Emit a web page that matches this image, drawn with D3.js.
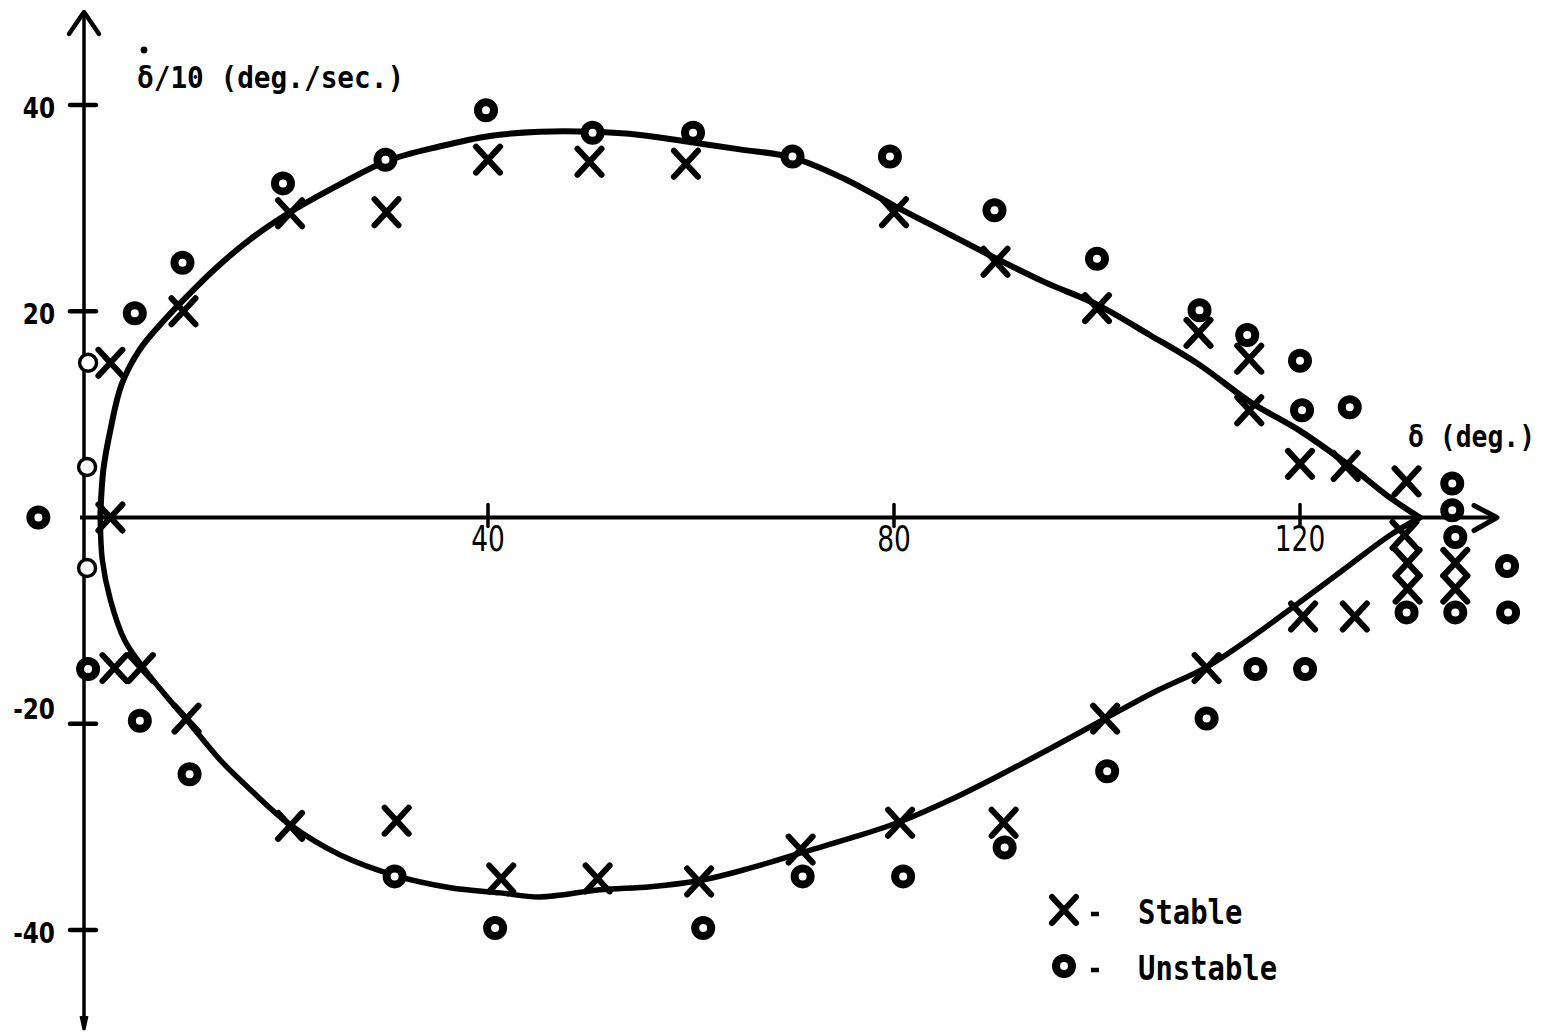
<!DOCTYPE html>
<html>
<head>
<meta charset="utf-8">
<script src="https://cdn.jsdelivr.net/npm/d3@7"></script>
<style>
  body { margin: 0; background: #fff; }
  .mono { font-family: "DejaVu Sans Mono", monospace; font-weight: bold; fill: #000; }
</style>
</head>
<body>
<div class="plot"></div>
<script>
// separatrix (hand drawn curve), delta (deg) vs delta-dot/10
var upperCurve = [[1.8,0],[2.1,4.6],[2.8,8.5],[3.9,12.9],[5.7,16.3],[7.7,18.7],[10.1,21.2],[13.1,24.1],
  [16.6,27.0],[20.5,29.6],[25.4,32.3],[30.1,34.6],[35.3,36.0],[40.2,37.0],[45.1,37.4],[50.3,37.4],
  [55.0,37.1],[59.9,36.4],[64.8,35.7],[70.0,34.9],[75.2,32.8],[79.9,30.3],[85.0,27.7],[89.9,25.2],
  [94.9,22.8],[100.1,20.6],[105.2,17.7],[110.1,14.8],[115.1,11.2],[120.0,8.4],[124.9,5.0],[128.9,1.9],[131.8,0]];
var lowerCurve = [[1.8,0],[2.0,-4.1],[2.8,-8.0],[4.2,-11.9],[6.0,-14.5],[8.2,-17.2],[10.3,-19.6],[13.6,-23.5],
  [16.6,-26.4],[20.5,-29.8],[25.4,-32.7],[30.8,-34.7],[36.3,-35.9],[41.2,-36.4],[45.1,-36.8],[51.0,-36.1],
  [56.0,-35.8],[60.9,-35.2],[65.8,-34.0],[70.9,-32.5],[75.7,-31.1],[80.6,-29.5],[85.5,-27.4],[90.4,-25.0],
  [95.4,-22.4],[100.8,-19.5],[105.7,-16.9],[110.8,-14.5],[115.1,-11.7],[120.0,-8.2],[124.9,-4.6],[128.9,-1.7],[131.8,0]];

var stable = [[2.8,15],[10,20],[20.5,29.5],[30,29.6],[40,34.7],[50,34.5],[59.5,34.3],[80,29.6],[90,24.8],
  [100,20.3],[110,17.9],[115,15.4],[115,10.4],[120,5.2],[124.5,5],[130.5,3.5],[2.8,0],[3.2,-14.6],[5.8,-14.6],
  [10.3,-19.5],[20.5,-29.9],[31,-29.4],[41.3,-35],[50.8,-35],[60.8,-35.3],[70.8,-32.2],[80.6,-29.6],[90.8,-29.6],
  [100.8,-19.5],[110.8,-14.6],[120.3,-9.6],[125.4,-9.6],[130.3,-1.7],[130.6,-4.4],[130.6,-6.9],[135.3,-4.4],[135.3,-6.9]];

var unstable = [[0.6,15],[0.5,4.9],[0.5,-4.9],[0.6,-14.7],[-4.3,0],[5.2,19.8],[9.9,24.7],[19.8,32.4],[29.9,34.7],
  [39.8,39.5],[50.3,37.3],[60.2,37.3],[70,35],[79.6,35],[89.9,29.8],[100,25.1],[110.1,20.1],[114.8,17.7],
  [120,15.2],[120.2,10.4],[124.9,10.7],[135,3.3],[135,0.7],[135.3,-1.9],[135.3,-9.2],[130.5,-9.2],[140.4,-4.7],
  [140.5,-9.2],[5.7,-19.7],[10.6,-24.9],[30.8,-34.8],[40.7,-39.8],[61.2,-39.8],[71,-34.8],[80.9,-34.8],
  [90.9,-32],[101,-24.6],[110.8,-19.5],[115.6,-14.7],[120.5,-14.7]];

var xTicks = [40, 80, 120];
var yTicks = [40, 20, -20, -40];
var legendLabels = ["Stable", "Unstable"];

var w = 1561, h = 1032;
var svg = d3.select(".plot").append("svg")
  .attr("width", w).attr("height", h)
  .style("display", "block");

var x = d3.scaleLinear().domain([0, 120]).range([82, 1300]);
var y = d3.scaleLinear().domain([-40, 40]).range([930, 105]);

var ax = x(0) + 2, ay = y(0);

// text squeezed sideways, like the typewriter lettering of the original
function label(g, tx, ty, str, size, sx, cls) {
  return g.append("text").attr("class", cls || "mono")
    .attr("transform", "translate(" + tx + "," + ty + ") scale(" + sx + ",1)")
    .style("font-size", size + "px")
    .text(str);
}

// axes
svg.append("line").attr("x1", ax).attr("x2", ax).attr("y1", 14).attr("y2", 1028)
  .attr("stroke", "#000").attr("stroke-width", 3.5);
svg.append("path").attr("d", "M" + (ax - 15) + ",34L" + ax + ",12L" + (ax + 15) + ",34")
  .attr("fill", "none").attr("stroke", "#000").attr("stroke-width", 4.5).attr("stroke-linecap", "round").attr("stroke-linejoin", "round");
svg.append("path").attr("d", "M" + (ax - 3) + ",1016L" + ax + ",1030L" + (ax + 3) + ",1016")
  .attr("fill", "none").attr("stroke", "#000").attr("stroke-width", 3);

svg.append("line").attr("x1", ax - 4).attr("x2", 1495).attr("y1", ay).attr("y2", ay)
  .attr("stroke", "#000").attr("stroke-width", 4);
svg.append("path").attr("d", "M1474," + (ay - 12) + "L1497," + ay + "L1474," + (ay + 13))
  .attr("fill", "none").attr("stroke", "#000").attr("stroke-width", 5).attr("stroke-linecap", "round").attr("stroke-linejoin", "round");

svg.selectAll(".xt").data(xTicks).enter().append("line")
  .attr("x1", function(d) { return x(d); }).attr("x2", function(d) { return x(d); })
  .attr("y1", ay - 13).attr("y2", ay + 9)
  .attr("stroke", "#000").attr("stroke-width", 3.5).attr("stroke-linecap", "round");
svg.selectAll(".xl").data(xTicks).enter().append("text")
  .attr("transform", function(d) { return "translate(" + x(d) + "," + (ay + 33) + ") scale(0.84,1)"; })
  .attr("text-anchor", "middle")
  .style("font-family", "'DejaVu Sans Condensed', sans-serif")
  .style("font-size", "35px")
  .text(function(d) { return d; });

svg.selectAll(".yt").data(yTicks).enter().append("line")
  .attr("x1", ax - 14).attr("x2", ax + 12)
  .attr("y1", function(d) { return y(d); }).attr("y2", function(d) { return y(d); })
  .attr("stroke", "#000").attr("stroke-width", 4.5).attr("stroke-linecap", "round");
svg.selectAll(".yl").data(yTicks).enter().append("text")
  .attr("transform", function(d) { return "translate(55," + (y(d) + (d === -20 ? -5 : 13)) + ") scale(0.92,1)"; })
  .attr("text-anchor", "end")
  .style("font-family", "'DejaVu Sans Condensed', sans-serif")
  .style("font-weight", "bold")
  .style("font-size", "28px")
  .text(function(d) { return d; });

// axis titles
label(svg, 137, 88, "δ/10 (deg./sec.)", 30, 0.925);
svg.append("circle").attr("cx", 144).attr("cy", 50).attr("r", 3.4).attr("fill", "#000");
label(svg, 1408, 447, "δ (deg.)", 30, 0.88);

// separatrix
var line = d3.line()
  .x(function(d) { return x(d[0]); })
  .y(function(d) { return y(d[1]); })
  .curve(d3.curveCatmullRom);
svg.append("path").datum(upperCurve).attr("d", line)
  .attr("fill", "none").attr("stroke", "#000").attr("stroke-width", 6).attr("stroke-linecap", "round");
svg.append("path").datum(lowerCurve).attr("d", line)
  .attr("fill", "none").attr("stroke", "#000").attr("stroke-width", 5.5).attr("stroke-linecap", "round");

// markers
var cross = "M-12,-13L12,13M-12,13L12,-13";
function drawCross(g) {
  g.append("path").attr("d", cross)
    .attr("fill", "none").attr("stroke", "#000").attr("stroke-width", 6).attr("stroke-linecap", "round");
}
function drawRing(g, thin) {
  g.append("circle").attr("r", thin ? 8.5 : 8)
    .attr("fill", "#fff").attr("stroke", "#000").attr("stroke-width", thin ? 3.4 : 8);
}

svg.selectAll(".un").data(unstable).enter().append("g")
  .attr("transform", function(d) { return "translate(" + x(d[0]) + "," + y(d[1]) + ")"; })
  .each(function(d) { drawRing(d3.select(this), d[0] > 0 && d[0] < 1 && d[1] > -14); });

svg.selectAll(".st").data(stable).enter().append("g")
  .attr("transform", function(d) { return "translate(" + x(d[0]) + "," + y(d[1]) + ")"; })
  .each(function() { drawCross(d3.select(this)); });

// legend
var leg = svg.append("g");
leg.selectAll("g").data(legendLabels).enter().append("g")
  .attr("transform", function(d, i) { return "translate(1064," + (910 + i * 56) + ")"; })
  .each(function(d, i) {
    var g = d3.select(this);
    if (i === 0) drawCross(g); else drawRing(g, false);
    g.append("line").attr("x1", 27).attr("x2", 35).attr("y1", 4).attr("y2", 4)
      .attr("stroke", "#000").attr("stroke-width", 4.5);
    label(g, 74, 14, d, 34, 0.85);
  });
</script>
</body>
</html>
